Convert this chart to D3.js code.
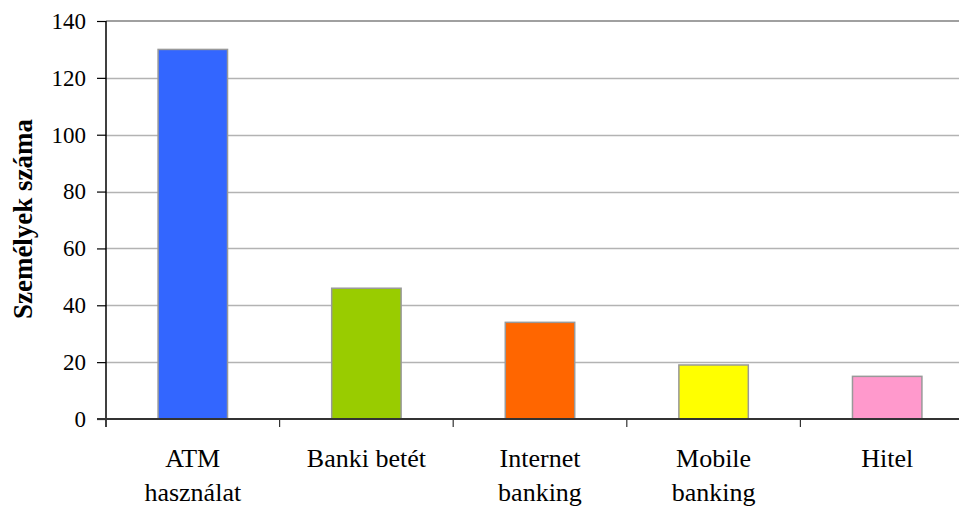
<!DOCTYPE html>
<html>
<head>
<meta charset="utf-8">
<script src="https://cdn.jsdelivr.net/npm/d3@7"></script>
<style>
  html, body { margin: 0; padding: 0; background: #fff; }
  svg { display: block; }
  text { font-family: "Liberation Serif", "Times New Roman", serif; fill: #000; }
</style>
</head>
<body>
<svg id="chart" width="959" height="506"></svg>
<script>
// Banking service usage (number of persons)
const categories = [["ATM", "használat"], ["Banki betét"], ["Internet", "banking"], ["Mobile", "banking"], ["Hitel"]];
const values = [130, 46, 34, 19, 15];
const colors = ["#3366FF", "#99CC00", "#FF6600", "#FFFF00", "#FF99CC"];
const yTicks = [0, 20, 40, 60, 80, 100, 120, 140];
const yTitle = "Személyek száma";

const svg = d3.select("#chart");
const plotLeft = 106, plotTop = 21, plotBottom = 419;
const bandW = 173.6;
const plotRight = plotLeft + bandW * categories.length;

const x = d3.scaleBand()
  .domain(d3.range(categories.length))
  .range([plotLeft, plotRight])
  .paddingInner(0.6)
  .paddingOuter(0.3);

const y = d3.scaleLinear().domain([0, 140]).range([plotBottom, plotTop]);

// horizontal gridlines
svg.append("g")
  .selectAll("line")
  .data(yTicks.filter(d => d > 0 && d < 140))
  .join("line")
  .attr("x1", plotLeft).attr("x2", plotRight)
  .attr("y1", d => Math.round(y(d)) + 0.5).attr("y2", d => Math.round(y(d)) + 0.5)
  .attr("stroke", "#b3b3b3").attr("stroke-width", 1.3);

// plot area top border
svg.append("line")
  .attr("x1", plotLeft).attr("x2", plotRight)
  .attr("y1", y(140)).attr("y2", y(140))
  .attr("stroke", "#808080").attr("stroke-width", 1.5);

// bars
svg.append("g")
  .selectAll("rect")
  .data(values)
  .join("rect")
  .attr("x", (d, i) => x(i))
  .attr("y", d => y(d))
  .attr("width", x.bandwidth())
  .attr("height", d => y(0) - y(d))
  .attr("fill", (d, i) => colors[i])
  .attr("stroke", "#999999")
  .attr("stroke-width", 1.5);

// y axis
const yAxis = d3.axisLeft(y).tickValues(yTicks).tickSize(9).tickPadding(11);
const gy = svg.append("g").attr("transform", `translate(${plotLeft},0)`).call(yAxis);
gy.select(".domain").remove();
gy.selectAll(".tick line").attr("stroke", "#000").attr("stroke-width", 1.2);
gy.selectAll(".tick text")
  .style("font-family", "'Liberation Serif', 'Times New Roman', serif")
  .style("font-size", "23px").attr("fill", "#000");
svg.append("line")
  .attr("x1", plotLeft).attr("x2", plotLeft)
  .attr("y1", plotTop).attr("y2", plotBottom + 8)
  .attr("stroke", "#000").attr("stroke-width", 1.5);

// x axis with category boundary ticks
svg.append("line")
  .attr("x1", plotLeft - 9).attr("x2", plotRight)
  .attr("y1", plotBottom).attr("y2", plotBottom)
  .attr("stroke", "#333").attr("stroke-width", 1.8);
svg.append("g")
  .selectAll("line")
  .data(d3.range(1, categories.length + 1))
  .join("line")
  .attr("x1", i => plotLeft + i * bandW).attr("x2", i => plotLeft + i * bandW)
  .attr("y1", plotBottom).attr("y2", plotBottom + 8)
  .attr("stroke", "#333").attr("stroke-width", 1.2);

// category labels
const lab = svg.append("g")
  .selectAll("text")
  .data(categories)
  .join("text")
  .attr("text-anchor", "middle")
  .attr("x", (d, i) => x(i) + x.bandwidth() / 2)
  .attr("y", 467)
  .style("font-size", "26px");
lab.selectAll("tspan")
  .data(d => d)
  .join("tspan")
  .attr("x", function () { return d3.select(this.parentNode).attr("x"); })
  .attr("dy", (d, i) => i === 0 ? 0 : 34)
  .text(d => d);

// y axis title
svg.append("text")
  .attr("transform", `translate(32,219) rotate(-90)`)
  .attr("text-anchor", "middle")
  .style("font-size", "27px")
  .style("font-weight", "bold")
  .text(yTitle);
</script>
</body>
</html>
